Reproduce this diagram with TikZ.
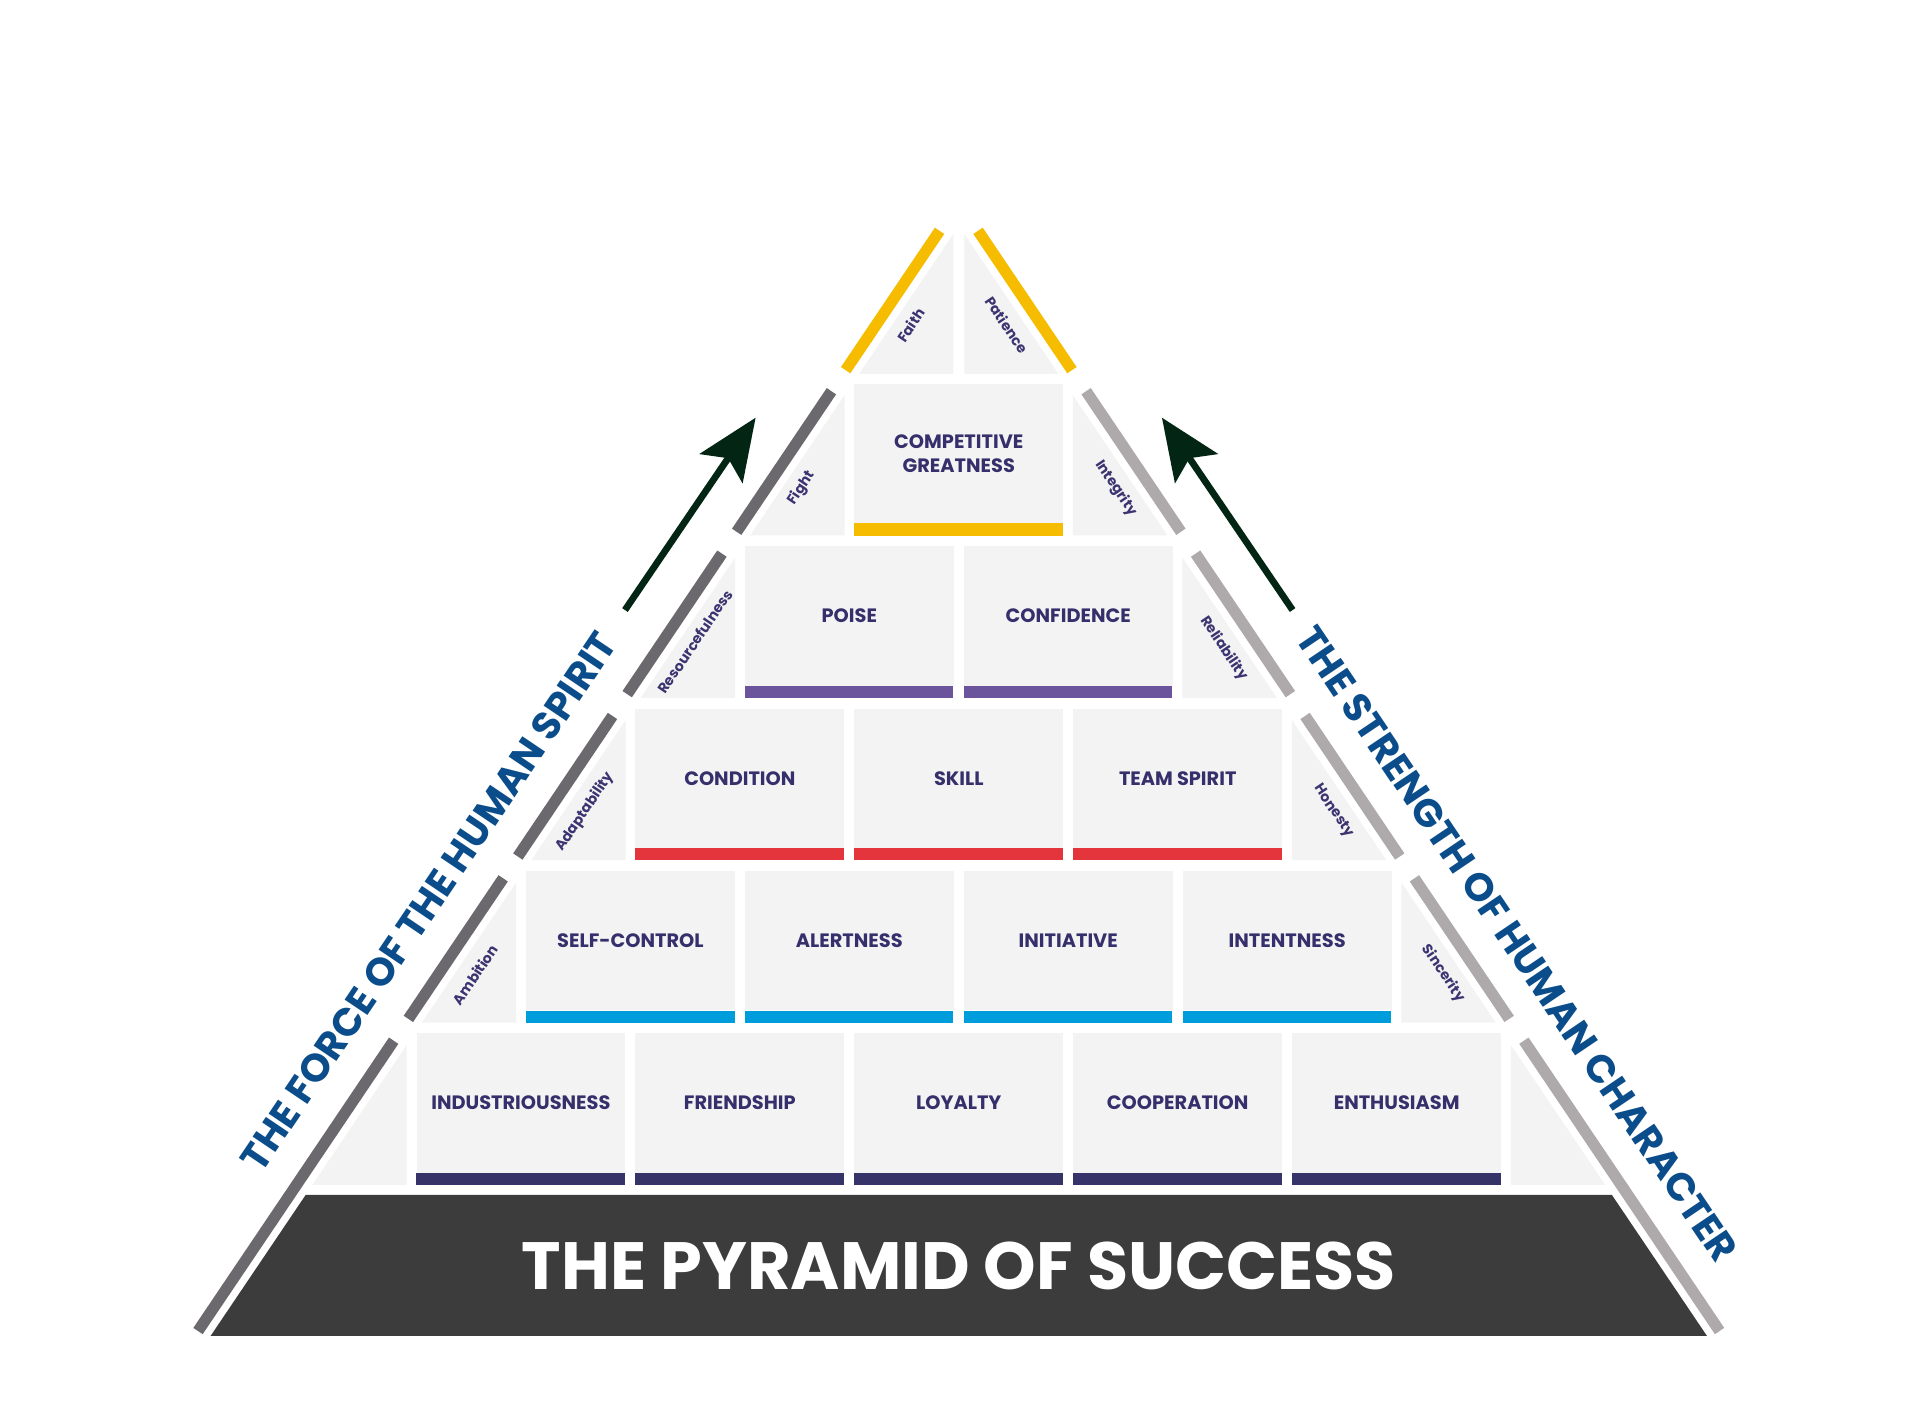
\documentclass[tikz,border=0pt]{standalone}
\usepackage{fontspec}
\setmainfont{Poppins}
\usetikzlibrary{arrows.meta}
\definecolor{boxfill}{HTML}{F3F3F3}
\definecolor{boxtext}{HTML}{35306B}
\definecolor{labtext}{HTML}{3B3470}
\definecolor{navybar}{HTML}{363368}
\definecolor{bluebar}{HTML}{009DDC}
\definecolor{redbar}{HTML}{E4353C}
\definecolor{purplebar}{HTML}{6B549C}
\definecolor{yellowbar}{HTML}{F6BD00}
\definecolor{leftgray}{HTML}{6B696D}
\definecolor{rightgray}{HTML}{AEAAAB}
\definecolor{basegray}{HTML}{3C3C3C}
\definecolor{sideblue}{HTML}{0B4D8B}
\definecolor{arrowgreen}{HTML}{032614}
\begin{document}
\begin{tikzpicture}[x=1pt,y=-1pt,
  box/.style={fill=boxfill, minimum width=170.5pt, minimum height=113.8pt, inner sep=0pt, align=center,
    text=boxtext, font=\bfseries\fontsize{15.8}{20}\selectfont},
  tri/.style={fill=boxfill},
  lbar/.style={draw=leftgray, line width=9.2pt, line cap=butt},
  rbar/.style={draw=rightgray, line width=9.2pt, line cap=butt},
  ybar/.style={draw=yellowbar, line width=9.2pt, line cap=butt},
  lab/.style={text=labtext, inner sep=0pt, font=\bfseries\fontsize{11.6}{14}\selectfont},
  side/.style={text=sideblue, inner sep=0pt, font=\bfseries\fontsize{32}{36}\selectfont},
  arr/.style={draw=arrowgreen, line width=5.5pt, -{Stealth[length=50pt, width=42pt, inset=10pt]}}
]
\useasboundingbox[fill=white] (0,0) rectangle (1568,1161);

% base
\fill[basegray] (249.6,975.9) -- (1316.4,975.9) -- (1394,1091) -- (172,1091) -- cycle;
\node[text=white, inner sep=0pt, font=\bfseries\fontsize{54.6}{60}\selectfont] (title) at (783,1033.5) {THE PYRAMID OF SUCCESS};

% side triangles (left)
\fill[tri] (255.1,967.7) -- (332.15,967.7) -- (332.15,853.4) -- cycle;
\fill[tri] (344.5,835.1) -- (421.55,835.1) -- (421.55,720.7) -- cycle;
\fill[tri] (433.85,702.5) -- (510.95,702.5) -- (510.95,588.1) -- cycle;
\fill[tri] (523.2,569.9) -- (600.35,569.9) -- (600.35,455.5) -- cycle;
\fill[tri] (612.6,437.3) -- (689.75,437.3) -- (689.75,322.8) -- cycle;
\fill[tri] (701.6,305.3) -- (778.5,305.3) -- (778.5,191.15) -- cycle;
% side triangles (right)
\fill[tri] (1310.9,967.7) -- (1233.85,967.7) -- (1233.85,853.4) -- cycle;
\fill[tri] (1221.5,835.1) -- (1144.45,835.1) -- (1144.45,720.7) -- cycle;
\fill[tri] (1132.15,702.5) -- (1055.05,702.5) -- (1055.05,588.1) -- cycle;
\fill[tri] (1042.8,569.9) -- (965.65,569.9) -- (965.65,455.5) -- cycle;
\fill[tri] (953.4,437.3) -- (876.25,437.3) -- (876.25,322.8) -- cycle;
\fill[tri] (864.4,305.3) -- (787.5,305.3) -- (787.5,191.15) -- cycle;

% row 1
\node[box] (b11) at (425.4,900.8) {INDUSTRIOUSNESS};
\node[box] (b12) at (604.2,900.8) {FRIENDSHIP};
\node[box] (b13) at (783,900.8) {LOYALTY};
\node[box] (b14) at (961.8,900.8) {COOPERATION};
\node[box] (b15) at (1140.6,900.8) {ENTHUSIASM};
\foreach \b in {b11,b12,b13,b14,b15} \fill[navybar] (\b.south west) rectangle ++(170.5,10);
% row 2
\node[box] (b21) at (514.8,768.2) {SELF-CONTROL};
\node[box] (b22) at (693.6,768.2) {ALERTNESS};
\node[box] (b23) at (872.4,768.2) {INITIATIVE};
\node[box] (b24) at (1051.2,768.2) {INTENTNESS};
\foreach \b in {b21,b22,b23,b24} \fill[bluebar] (\b.south west) rectangle ++(170.5,10);
% row 3
\node[box] (b31) at (604.2,635.6) {CONDITION};
\node[box] (b32) at (783,635.6) {SKILL};
\node[box] (b33) at (961.8,635.6) {TEAM SPIRIT};
\foreach \b in {b31,b32,b33} \fill[redbar] (\b.south west) rectangle ++(170.5,10);
% row 4
\node[box] (b41) at (693.6,503.0) {POISE};
\node[box] (b42) at (872.4,503.0) {CONFIDENCE};
\foreach \b in {b41,b42} \fill[purplebar] (\b.south west) rectangle ++(170.5,10);
% row 5
\node[box] (b51) at (783,370.4) {COMPETITIVE\\GREATNESS};
\fill[yellowbar] (b51.south west) rectangle ++(170.5,10);

% left bars
\draw[lbar] (161.7,1087) -- (321.5,849.9);
\draw[lbar] (333.5,832.1) -- (410.9,717.3);
\draw[lbar] (422.9,699.5) -- (500.2,584.7);
\draw[lbar] (512.2,566.9) -- (589.6,452.1);
\draw[lbar] (601.6,434.3) -- (679.0,319.5);
\draw[ybar] (690.6,302.3) -- (767.3,188.5);
% right bars
\draw[rbar] (1404.3,1087) -- (1244.5,849.9);
\draw[rbar] (1232.5,832.1) -- (1155.1,717.3);
\draw[rbar] (1143.1,699.5) -- (1065.8,584.7);
\draw[rbar] (1053.8,566.9) -- (976.4,452.1);
\draw[rbar] (964.4,434.3) -- (887.0,319.5);
\draw[ybar] (875.4,302.3) -- (798.7,188.5);

% small labels
\node[lab, rotate=56] (lfaith) at (743.7,265.4) {Faith};
\node[lab, rotate=56] (lfight) at (654.7,398.8) {Fight};
\node[lab, rotate=56] (lres) at (567.6,524) {Resourcefulness};
\node[lab, rotate=56] (ladapt) at (477.7,662.9) {Adaptability};
\node[lab, rotate=56] (lamb) at (388,796) {Ambition};
\node[lab, rotate=-56] (rpat) at (822.3,265.4) {Patience};
\node[lab, rotate=-56] (rint) at (911.3,398.8) {Integrity};
\node[lab, rotate=-56] (rrel) at (999.5,529.5) {Reliability};
\node[lab, rotate=-56] (rhon) at (1089,662.5) {Honesty};
\node[lab, rotate=-56] (rsin) at (1178.5,795) {Sincerity};

% side texts
\node[side, rotate=56] (tforce) at (350,736) {THE FORCE OF THE HUMAN SPIRIT};
\node[side, rotate=-56] (tstrength) at (1239,771) {THE STRENGTH OF HUMAN CHARACTER};

% arrows
\coordinate (la0) at (510.4,498.2);
\coordinate (la1) at (617.1,341.1);
\coordinate (ra0) at (1055.6,498.2);
\coordinate (ra1) at (948.9,341.1);
\draw[arr] (la0) -- (la1);
\draw[arr] (ra0) -- (ra1);
\end{tikzpicture}
\end{document}
